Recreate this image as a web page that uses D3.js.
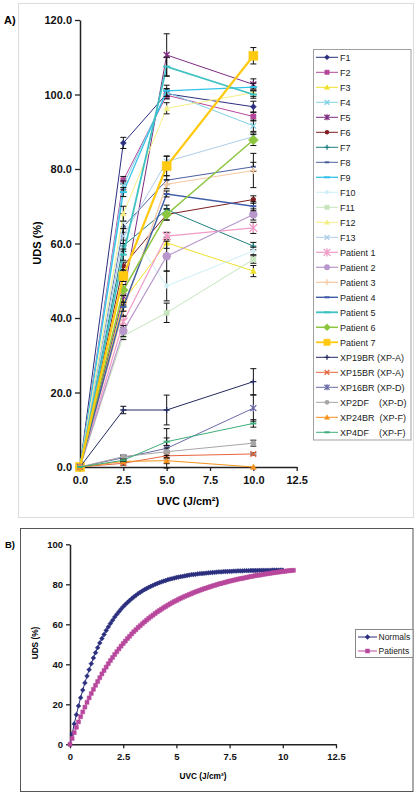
<!DOCTYPE html>
<html><head><meta charset="utf-8">
<script src="https://cdn.jsdelivr.net/npm/d3@7"></script>
<style>body{margin:0;background:#fff}svg{display:block;font-family:"Liberation Sans",Arial,sans-serif}</style>
</head><body><svg id="c" width="419" height="796"></svg>
<script>
// ---------- Panel A data ----------
const doses = [0, 2.5, 5, 10];
const xTicksA = [0, 2.5, 5, 7.5, 10, 12.5];
const yTicksA = [0, 20, 40, 60, 80, 100, 120];
const seriesNames = ["F1","F2","F3","F4","F5","F6","F7","F8","F9","F10","F11","F12","F13",
  "Patient 1","Patient 2","Patient 3","Patient 4","Patient 5","Patient 6","Patient 7",
  "XP19BR (XP-A)","XP15BR (XP-A)","XP16BR (XP-D)","XP2DF    (XP-D)","XP24BR  (XP-F)","XP4DF    (XP-F)"];
const F1  = [0, 87.0, 100.2, 96.7];
const F2  = [0, 77.0, 99.8, 94.1];
const F3  = [0, 44.5, 60.2, 52.6];
const F4  = [0, 75.6, 100.6, 91.6];
const F5  = [0, 45.8, 110.6, 102.7];
const F6  = [0, 54.0, 67.8, 71.8];
const F7  = [0, 59.4, 69.1, 59.3];
const F8  = [0, 64.5, 77.0, 80.6];
const F9  = [0, 73.8, 101.0, 102.0];
const F10 = [0, 66.0, 48.6, 58.0];
const F11 = [0, 35.2, 41.4, 55.7];
const F12 = [0, 68.0, 96.3, 100.5];
const F13 = [0, 62.0, 82.0, 88.7];
const P1  = [0, 39.0, 62.0, 64.2];
const P2  = [0, 36.5, 56.6, 67.8];
const P3  = [0, 42.0, 75.9, 79.6];
const P4  = [0, 43.0, 73.3, 70.0];
const P5  = [0, 57.0, 107.5, 100.0];
const P6  = [0, 47.5, 67.8, 87.8];
const P7  = [0, 51.3, 80.8, 110.4];
const XP19BR = [0, 15.3, 15.3, 22.9];
const XP15BR = [0, 1.0, 3.0, 3.5];
const XP16BR = [0, 2.5, 5.0, 15.8];
const XP2DF  = [0, 2.8, 4.1, 6.4];
const XP24BR = [0, 1.5, 1.7, 0.0];
const XP4DF  = [0, 1.8, 6.8, 11.7];
// standard errors
const eF1  = [0, 1.5, 1.2, 1.5];
const eF2  = [0, 1.0, 1.0, 1.2];
const eF3  = [0, 1.5, 1.5, 1.5];
const eF4  = [0, 1.2, 1.0, 1.5];
const eF5  = [0, 1.5, 5.7, 1.5];
const eF6  = [0, 1.0, 1.5, 1.0];
const eF7  = [0, 1.5, 1.2, 1.0];
const eF8  = [0, 1.5, 1.2, 1.2];
const eF9  = [0, 1.2, 1.5, 1.0];
const eF10 = [0, 2.0, 4.0, 1.0];
const eF11 = [0, 1.0, 2.6, 1.0];
const eF12 = [0, 2.0, 1.5, 1.0];
const eF13 = [0, 2.0, 1.5, 1.0];
const eP1  = [0, 1.5, 1.0, 1.5];
const eP2  = [0, 1.5, 4.0, 1.5];
const eP3  = [0, 1.5, 1.2, 4.6];
const eP4  = [0, 1.2, 0.8, 1.2];
const eP5  = [0, 1.5, 2.5, 1.0];
const eP6  = [0, 1.5, 1.5, 1.5];
const eP7  = [0, 1.5, 2.6, 2.2];
const eXP19BR = [0, 1.0, 4.0, 3.5];
const eXP15BR = [0, 0.5, 0.8, 0.3];
const eXP16BR = [0, 0.5, 5.3, 3.5];
const eXP2DF  = [0, 0.4, 1.0, 0.8];
const eXP24BR = [0, 0.3, 0.8, 0.0];
const eXP4DF  = [0, 0.3, 1.0, 1.0];
const seriesValues = [F1,F2,F3,F4,F5,F6,F7,F8,F9,F10,F11,F12,F13,P1,P2,P3,P4,P5,P6,P7,XP19BR,XP15BR,XP16BR,XP2DF,XP24BR,XP4DF];
const seriesErrors = [eF1,eF2,eF3,eF4,eF5,eF6,eF7,eF8,eF9,eF10,eF11,eF12,eF13,eP1,eP2,eP3,eP4,eP5,eP6,eP7,eXP19BR,eXP15BR,eXP16BR,eXP2DF,eXP24BR,eXP4DF];

// ---------- Panel B data ----------
const xTicksB = [0, 2.5, 5, 7.5, 10, 12.5];
const yTicksB = [0, 20, 40, 60, 80, 100];
const doseB = [0,0.1,0.2,0.3,0.4,0.5,0.6,0.7,0.8,0.9,1,1.1,1.2,1.3,1.4,1.5,1.6,1.7,1.8,1.9,2,2.1,2.2,2.3,2.4,2.5,2.6,2.7,2.8,2.9,3,3.1,3.2,3.3,3.4,3.5,3.6,3.7,3.8,3.9,4,4.1,4.2,4.3,4.4,4.5,4.6,4.7,4.8,4.9,5,5.1,5.2,5.3,5.4,5.5,5.6,5.7,5.8,5.9,6,6.1,6.2,6.3,6.4,6.5,6.6,6.7,6.8,6.9,7,7.1,7.2,7.3,7.4,7.5,7.6,7.7,7.8,7.9,8,8.1,8.2,8.3,8.4,8.5,8.6,8.7,8.8,8.9,9,9.1,9.2,9.3,9.4,9.5,9.6,9.7,9.8,9.9,10,10.1,10.2,10.3,10.4,10.5];
const normals = [0,5.2,10.2,14.8,19.2,23.3,27.1,30.7,34.1,37.3,40.3,43.2,45.8,48.3,50.7,52.9,54.9,56.9,58.7,60.4,62.0,63.6,65.0,66.3,67.6,68.8,69.9,70.9,71.9,72.8,73.7,74.5,75.3,76.0,76.7,77.3,77.9,78.5,79.0,79.5,80.0,80.4,80.8,81.2,81.6,81.9,82.3,82.6,82.8,83.1,83.4,83.6,83.8,84.0,84.2,84.4,84.6,84.8,84.9,85.0,85.2,85.3,85.4,85.5,85.6,85.7,85.8,85.9,86.0,86.1,86.2,86.2,86.3,86.4,86.4,86.5,86.5,86.6,86.6,86.7,86.7,86.7,86.8,86.8,86.8,86.9,86.9,86.9,86.9,87.0,87.0,87.0,87.0,87.0,87.0,87.1,87.1,87.1,87.1,87.1,87.1];
const patients = [0,2.9,5.8,8.5,11.2,13.8,16.2,18.6,21.0,23.2,25.4,27.5,29.5,31.4,33.3,35.2,36.9,38.6,40.3,41.9,43.4,44.9,46.3,47.7,49.1,50.4,51.6,52.9,54.0,55.2,56.3,57.3,58.4,59.3,60.3,61.2,62.1,63.0,63.8,64.6,65.4,66.2,66.9,67.6,68.3,68.9,69.6,70.2,70.8,71.4,71.9,72.5,73.0,73.5,74.0,74.4,74.9,75.3,75.8,76.2,76.6,77.0,77.4,77.8,78.1,78.5,78.8,79.2,79.5,79.8,80.2,80.4,80.7,81.0,81.3,81.6,81.8,82.1,82.3,82.6,82.8,83.0,83.2,83.4,83.7,83.9,84.1,84.3,84.5,84.6,84.8,85.0,85.2,85.3,85.5,85.7,85.8,86.0,86.1,86.3,86.4,86.5,86.7,86.8,86.9,87.0];

// ---------- styles ----------
const styleA = [
  {c:"#2b2f7e", m:"diamond", r:3},
  {c:"#b5469b", m:"square", r:2.6},
  {c:"#efe02a", m:"triangle", r:3},
  {c:"#7fd2e4", m:"x", r:2.8},
  {c:"#7e2b80", m:"star", r:3},
  {c:"#7e1e22", m:"circle", r:2.6},
  {c:"#1f7f7f", m:"plus", r:3},
  {c:"#4d5fa0", m:"dash", r:2.5},
  {c:"#33c3e8", m:"dash", r:3.5, w:1.3},
  {c:"#cdeef7", m:"diamond", r:2.6},
  {c:"#c6e5bd", m:"square", r:2.6},
  {c:"#f5ee86", m:"triangle", r:3},
  {c:"#aecdea", m:"x", r:2.8},
  {c:"#f29bc7", m:"star", r:4, w:1.2},
  {c:"#b898cc", m:"circle", r:4.2, w:1.2},
  {c:"#f7c9a3", m:"plus", r:3.5, w:1.2},
  {c:"#3f5da8", m:"dash", r:3, w:1.4},
  {c:"#3fc2c4", m:"dash", r:3.5, w:1.8},
  {c:"#8cc63f", m:"diamond", r:5, w:1.5},
  {c:"#ffc90f", m:"square", r:4.5, w:2.2},
  {c:"#232b5e", m:"plus", r:3},
  {c:"#e8643c", m:"x", r:2.8},
  {c:"#6b6ba8", m:"star", r:3},
  {c:"#a6a6a6", m:"circle", r:2.8},
  {c:"#f5921e", m:"triangle", r:3},
  {c:"#3dae7a", m:"dash", r:3}
];

const svg = d3.select("#c");

function markerPath(m, r) {
  switch (m) {
    case "diamond": return `M0,${-r}L${r},0L0,${r}L${-r},0Z`;
    case "square": return `M${-r},${-r}H${r}V${r}H${-r}Z`;
    case "triangle": return `M0,${-r}L${r},${r*0.8}L${-r},${r*0.8}Z`;
    case "x": return `M${-r},${-r}L${r},${r}M${-r},${r}L${r},${-r}`;
    case "star": return `M${-r},${-r}L${r},${r}M${-r},${r}L${r},${-r}M0,${-r*1.2}L0,${r*1.2}`;
    case "plus": return `M0,${-r}L0,${r}M${-r},0L${r},0`;
    case "dash": return `M${-r},0L${r},0`;
  }
}
function drawMarker(g, x, y, s, scale) {
  const r = s.r * (scale || 1);
  if (s.m === "circle") {
    g.append("circle").attr("cx", x).attr("cy", y).attr("r", r).attr("fill", s.c);
    return;
  }
  const filled = ["diamond","square","triangle"].includes(s.m);
  g.append("path").attr("transform", `translate(${x},${y})`).attr("d", markerPath(s.m, r))
    .attr("fill", filled ? s.c : "none").attr("stroke", s.c)
    .attr("stroke-width", filled ? 0.5 : (s.m === "dash" ? 2 : 1.3));
}

// ---------- Panel A ----------
svg.append("rect").attr("x", 18.5).attr("y", 3.5).attr("width", 395).attr("height", 514)
  .attr("fill", "none").attr("stroke", "#dcdcdc").attr("stroke-width", 1);
svg.append("text").attr("x", 4).attr("y", 24).attr("font-size", 11).attr("font-weight", "bold").text("A)");

const xA = d3.scaleLinear().domain([0, 12.5]).range([80, 296.7]);
const yA = d3.scaleLinear().domain([0, 120]).range([467, 20]);

const gA = svg.append("g");
// series
seriesValues.forEach((vals, i) => {
  const s = styleA[i];
  const errs = seriesErrors[i];
  const line = d3.line().x((d, j) => xA(doses[j])).y(d => yA(d));
  gA.append("path").datum(vals).attr("d", line).attr("fill", "none")
    .attr("stroke", s.c).attr("stroke-width", s.w || 1);
  const eg = gA.append("g").attr("stroke", "#111").attr("stroke-width", 1);
  vals.forEach((v, j) => {
    const e = errs[j];
    if (!e) return;
    const x = xA(doses[j]);
    eg.append("line").attr("x1", x).attr("x2", x).attr("y1", yA(v - e)).attr("y2", yA(v + e));
    eg.append("line").attr("x1", x - 3).attr("x2", x + 3).attr("y1", yA(v - e)).attr("y2", yA(v - e));
    eg.append("line").attr("x1", x - 3).attr("x2", x + 3).attr("y1", yA(v + e)).attr("y2", yA(v + e));
  });
  const mg = gA.append("g");
  vals.forEach((v, j) => drawMarker(mg, xA(doses[j]), yA(v), s));
});

// axes A
const axYA = svg.append("g").attr("transform", "translate(80,0)")
  .call(d3.axisLeft(yA).tickValues(yTicksA).tickFormat(d3.format(".1f")).tickSize(5).tickSizeOuter(0));
const axXA = svg.append("g").attr("transform", "translate(0,467)")
  .call(d3.axisBottom(xA).tickValues(xTicksA).tickFormat(d3.format(".1f")).tickSize(4).tickSizeOuter(0));
[axYA, axXA].forEach(a => {
  a.select(".domain").attr("stroke", "#222").attr("stroke-width", 1.5);
  a.selectAll(".tick line").attr("stroke", "#222").attr("stroke-width", 1.3);
  a.selectAll("text").attr("font-size", 11).attr("font-weight", "bold").attr("fill", "#111")
    .attr("font-family", '"Liberation Sans",Arial,sans-serif');
});
axYA.selectAll("text").attr("x", -8);
axXA.selectAll("text").attr("y", 9);
// bring series over x axis? Excel draws the axis below data
gA.raise();

svg.append("text").attr("x", 188).attr("y", 505).attr("text-anchor", "middle")
  .attr("font-size", 11).attr("font-weight", "bold").text("UVC (J/cm²)");
svg.append("text").attr("transform", "translate(41,243) rotate(-90)").attr("text-anchor", "middle")
  .attr("font-size", 11).attr("font-weight", "bold").text("UDS (%)");

// legend A
const lgA = svg.append("g");
lgA.append("rect").attr("x", 313.5).attr("y", 49.5).attr("width", 97.5).attr("height", 390.5)
  .attr("fill", "#fff").attr("stroke", "#a0a0a0");
seriesNames.forEach((n, i) => {
  const y = 57.3 + i * 15.0;
  const s = styleA[i];
  lgA.append("line").attr("x1", 316).attr("x2", 338).attr("y1", y).attr("y2", y)
    .attr("stroke", s.c).attr("stroke-width", Math.min(s.w || 1, 1.8));
  drawMarker(lgA, 327, y, s, s.r > 4 ? 0.7 : 0.85);
  lgA.append("text").attr("x", 340).attr("y", y + 3.2).attr("font-size", 9)
    .attr("fill", "#222").style("white-space", "pre").text(n);
});

// ---------- Panel B ----------
svg.append("rect").attr("x", 20.5).attr("y", 528.5).attr("width", 392.5).attr("height", 263)
  .attr("fill", "none").attr("stroke", "#555").attr("stroke-width", 1);
svg.append("text").attr("x", 5).attr("y", 548).attr("font-size", 9.5).attr("font-weight", "bold").text("B)");

const xB = d3.scaleLinear().domain([0, 12.5]).range([70, 336]);
const yB = d3.scaleLinear().domain([0, 100]).range([744.3, 544.3]);

const axYB = svg.append("g").attr("transform", "translate(70,0)")
  .call(d3.axisLeft(yB).tickValues(yTicksB).tickFormat(d => String(d)).tickSize(4).tickSizeOuter(0));
const axXB = svg.append("g").attr("transform", "translate(0,744.3)")
  .call(d3.axisBottom(xB).tickValues(xTicksB).tickFormat(d => String(d)).tickSize(4).tickSizeOuter(0));
[axYB, axXB].forEach(a => {
  a.select(".domain").attr("stroke", "#222").attr("stroke-width", 1.5);
  a.selectAll(".tick line").attr("stroke", "#222").attr("stroke-width", 1.3);
  a.selectAll("text").attr("font-size", 9.5).attr("font-weight", "bold").attr("fill", "#111")
    .attr("font-family", '"Liberation Sans",Arial,sans-serif');
});
axYB.selectAll("text").attr("x", -7);
axXB.selectAll("text").attr("y", 9);

svg.append("text").attr("x", 203).attr("y", 779).attr("text-anchor", "middle")
  .attr("font-size", 8.3).attr("font-weight", "bold").text("UVC (J/cm²)");
svg.append("text").attr("transform", "translate(38,643) rotate(-90)").attr("text-anchor", "middle")
  .attr("font-size", 8.3).attr("font-weight", "bold").text("UDS (%)");

const seriesB = [
  {name: "Normals", vals: normals, c: "#2b2f7e", m: "diamond", r: 2.4},
  {name: "Patients", vals: patients, c: "#b8489d", m: "square", r: 2.0}
];
const gB = svg.append("g");
seriesB.forEach(s => {
  const line = d3.line().x((d, j) => xB(doseB[j])).y(d => yB(d));
  gB.append("path").datum(s.vals).attr("d", line).attr("fill", "none").attr("stroke", s.c).attr("stroke-width", 1);
  const mg = gB.append("g");
  s.vals.forEach((v, j) => drawMarker(mg, xB(doseB[j]), yB(v), s));
});

const lgB = svg.append("g");
lgB.append("rect").attr("x", 355.5).attr("y", 629.5).attr("width", 57.5).attr("height", 28)
  .attr("fill", "#fff").attr("stroke", "#888");
seriesB.forEach((s, i) => {
  const y = 637 + i * 14;
  lgB.append("line").attr("x1", 358).attr("x2", 377).attr("y1", y).attr("y2", y).attr("stroke", s.c);
  drawMarker(lgB, 367.5, y, s);
  lgB.append("text").attr("x", 378.5).attr("y", y + 3).attr("font-size", 8.5).attr("fill", "#222").text(s.name);
});
</script>
</body></html>
